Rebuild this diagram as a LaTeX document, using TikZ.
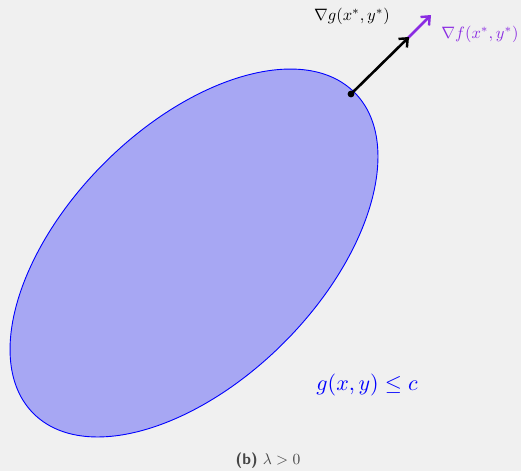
\documentclass[tikz,border=0pt]{standalone}
\usetikzlibrary{arrows.meta}
\definecolor{bg}{RGB}{240,240,240}
\definecolor{regfill}{RGB}{167,167,243}
\definecolor{purp}{RGB}{138,43,226}
\definecolor{capgray}{RGB}{70,70,70}
\begin{document}
\begin{tikzpicture}[x=1pt,y=-1pt,
  grad/.style={line width=2.6pt,-{Straight Barb[length=7pt,width=12pt,line width=2.4pt]}},
  lbl/.style={inner sep=0pt}]
\fill[bg] (0,0) rectangle (521,471);
\useasboundingbox (0,0) rectangle (521,471);
\draw[blue, fill=regfill, line width=0.9pt, rotate around={45:(194,253)}] (194,253) ellipse [x radius=227, y radius=127];
\coordinate (p) at (351,94);
\coordinate (gt) at (409,37);
\coordinate (ft) at (431,15);
\draw[purp, grad] (gt) ++(-4,4) -- (ft);
\draw[black, grad] (p) -- (gt);
\fill (p) circle [radius=3.4pt];
\node[lbl, scale=1.65] (gl) at (352,16) {$\nabla g(x^*,y^*)$};
\node[lbl, scale=1.65, text=purp] (fl) at (480,34) {$\nabla f(x^*,y^*)$};
\node[lbl, scale=2.2, text=blue] (cl) at (367,385) {$g(x,y)\le c$};
\node[lbl, scale=1.55, text=capgray] (cap) at (268,461) {{\sffamily\bfseries (b)} $\lambda>0$};
\end{tikzpicture}
\end{document}
